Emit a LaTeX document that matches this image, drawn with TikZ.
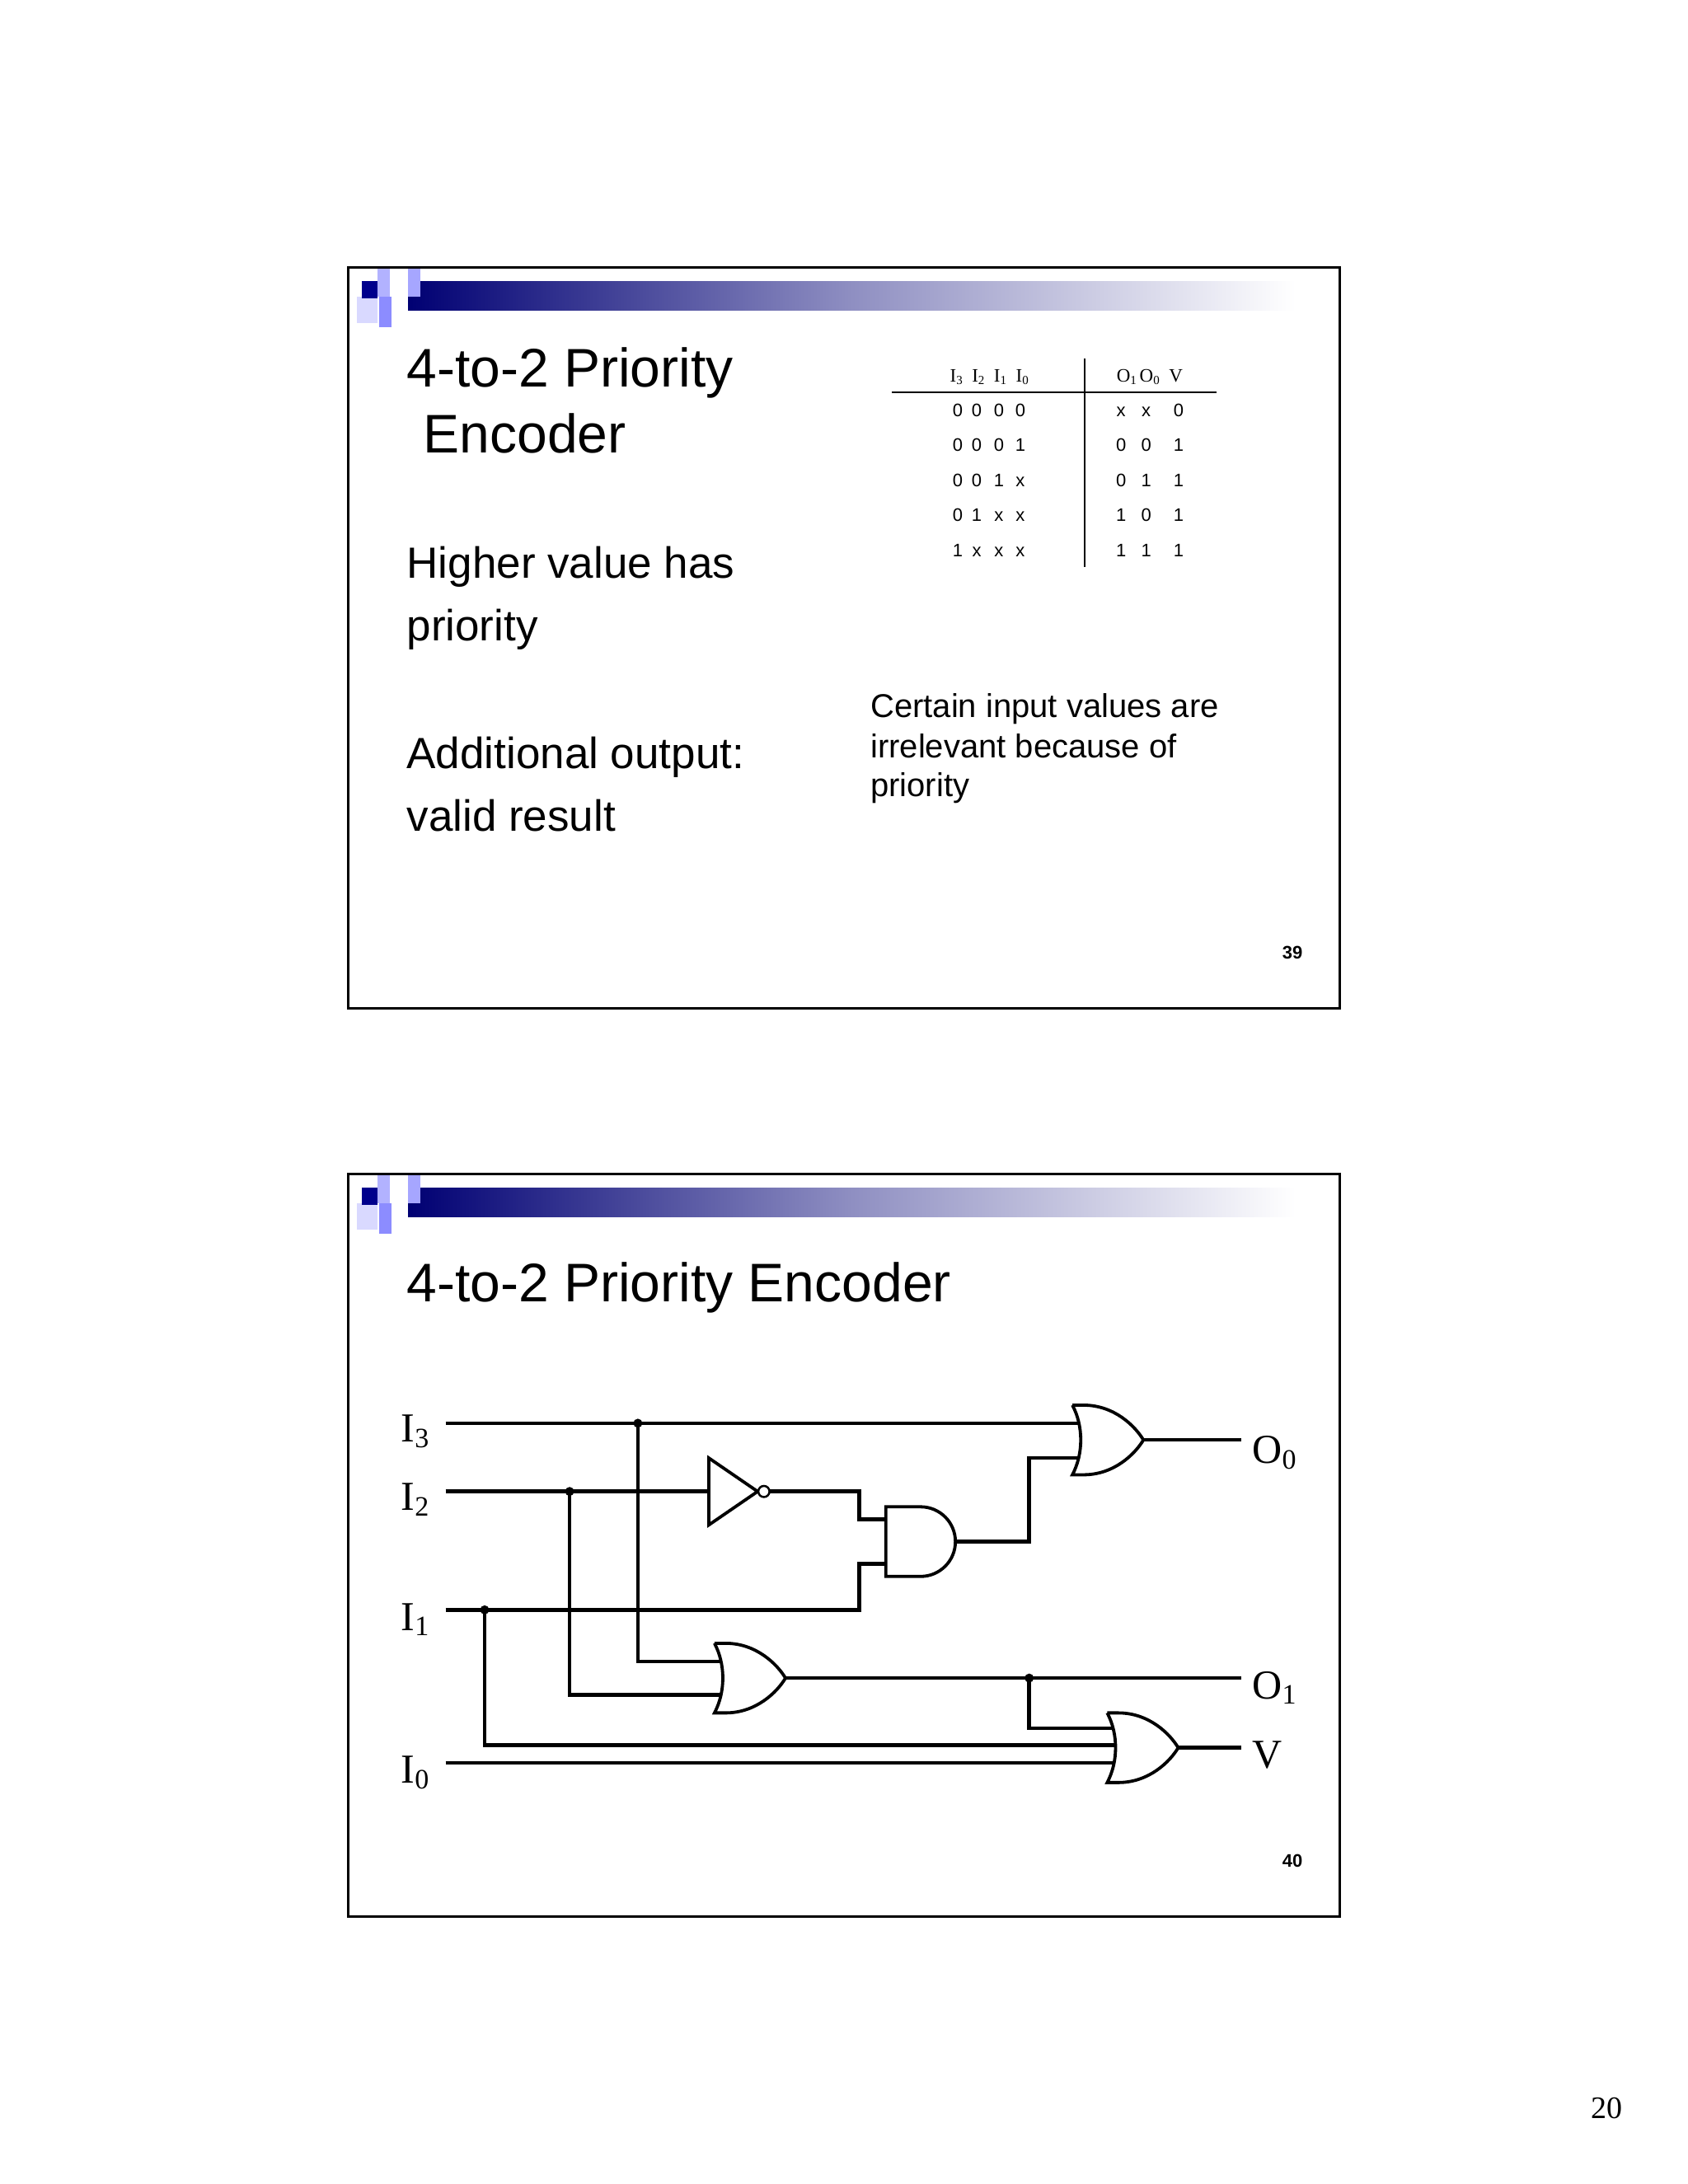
\documentclass[tikz,border=0pt]{standalone}
\usepackage{fontspec}
\setmainfont{Liberation Serif}
\newfontfamily\arial{Liberation Sans}
\newcommand{\sbs}[2]{#1\raisebox{-0.35ex}{\fontsize{#2}{#2}\selectfont}}
\newcommand{\lsub}[1]{\raisebox{-0.3ex}{\fontsize{34}{36}\selectfont #1}}
\newcommand{\tsub}[1]{\raisebox{-0.3ex}{\fontsize{15}{16}\selectfont #1}}
\begin{document}
\begin{tikzpicture}[x=1.6898pt,y=-1.6898pt,
  wire/.style={line width=4.5pt},
  gatel/.style={line width=3.8pt,fill=white},
  dot/.style={circle,fill=black,inner sep=0pt,minimum size=11pt},
  slide/.style={line width=3pt},
  hd/.style={font=\arial\fontsize{66}{70}\selectfont,anchor=base west,inner sep=0pt},
  bd/.style={font=\arial\fontsize{53}{60}\selectfont,anchor=base west,inner sep=0pt},
  sm/.style={font=\arial\fontsize{40}{46}\selectfont,anchor=base west,inner sep=0pt},
  tb/.style={font=\arial\fontsize{22}{24}\selectfont,anchor=base,inner sep=0pt},
  th/.style={font=\fontsize{23}{25}\selectfont,anchor=base,inner sep=0pt},
  lab/.style={font=\fontsize{50}{54}\selectfont,inner sep=0pt},
  pn/.style={font=\arial\bfseries\fontsize{22}{24}\selectfont,inner sep=0pt},
  orgate/.pic={\draw[gatel] (0,-25) -- (8,-25) .. controls (30,-25) and (45,-10) .. (51,0)
      .. controls (45,10) and (30,25) .. (8,25) -- (0,25) .. controls (8,10) and (8,-10) .. (0,-25);
      \coordinate (-out) at (51,0);},
  andgate/.pic={\draw[gatel] (0,-25) -- (25,-25) arc[start angle=-90,end angle=90,radius=25] -- (0,25) -- cycle;
      \coordinate (-out) at (50,0);}
]
\useasboundingbox (0,0) rectangle (1212,1568.3);
\fill[white] (0,0) rectangle (1212,1568.3);
% slide headers
\foreach \t in {0,651}{
  \begin{scope}[yshift=-\t*1.6898pt]
  \shade[left color=blue!45!black,right color=white,middle color=black!30!white!80!blue] (293,202) rectangle (930,223);
  \fill[blue!30!white] (271,193) rectangle (280,213);
  \fill[blue!35!white] (293,193) rectangle (302,213);
  \fill[blue!45!white] (272,213) rectangle (281,235);
  \fill[blue!15!white] (256,213) rectangle (271,232);
  \fill[blue!55!black] (260,202) rectangle (271,214);
  \end{scope}}
\draw[slide] (250,192) rectangle (962,724);
\draw[slide] (250,843) rectangle (962,1376);
% slide 1 text
\node[hd] (t1) at (292,278) {4-to-2 Priority};
\node[hd] (t2) at (304,325) {Encoder};
\node[bd] (h1) at (292,415) {Higher value has};
\node[bd] (h2) at (292,460) {priority};
\node[bd] (a1) at (292,552) {Additional output:};
\node[bd] (a2) at (292,597) {valid result};
\node[sm] (c1) at (625,515) {Certain input values are};
\node[sm] (c2) at (625,544) {irrelevant because of};
\node[sm] (c3) at (625,572) {priority};
\node[pn] (p39) at (928,684) {39};
% table
\draw[line width=2pt] (778.8,257.4) -- (778.8,407.2);
\draw[line width=2pt] (640.3,281.7) -- (873.5,281.7);
\node[th] (hin) at (710.3,274.4) {I\tsub{3}\ \ I\tsub{2}\ \ I\tsub{1}\ \ I\tsub{0}};
\node[th] (hout) at (825.5,274.4) {O\tsub{1}\,O\tsub{0}\ \ V};
\foreach \y/\a/\b/\c/\d/\e/\f/\g in {298.9/0/0/0/0/x/x/0, 324.3/0/0/0/1/0/0/1, 349.2/0/0/1/x/0/1/1, 374.6/0/1/x/x/1/0/1, 399.5/1/x/x/x/1/1/1}{
  \node[tb] at (687.6,\y) {\a}; \node[tb] at (701.3,\y) {\b};
  \node[tb] at (717.2,\y) {\c}; \node[tb] at (732.6,\y) {\d};
  \node[tb] at (805,\y) {\e}; \node[tb] at (823,\y) {\f}; \node[tb] at (846.3,\y) {\g};}
% slide 2
\node[hd] (t3) at (292,935) {4-to-2 Priority Encoder};
\node[pn] (p40) at (928,1336) {40};
\node[font=\fontsize{38}{40}\selectfont] (p20) at (1154,1514) {20};
% circuit coordinates
\coordinate (i3) at (320,1022); \coordinate (i2) at (320,1071);
\coordinate (i1) at (320,1156); \coordinate (i0) at (320,1266);
\coordinate (j3) at (458,1022); \coordinate (j2) at (409,1071);
\coordinate (j1) at (348,1156); \coordinate (jo1) at (739,1205);
\coordinate (o0) at (891,1034); \coordinate (o1) at (891,1205); \coordinate (v) at (891,1255);
% wires
\draw[wire] (i3) -- (776,1022);
\draw[wire] (i2) -- (509,1071);
\draw[wire] (553,1071) -| (617,1091) -- (640,1091);
\draw[wire] (i1) -| (617,1123) -- (640,1123);
\draw[wire] (686,1107) -| (739,1047) -- (776,1047);
\draw[wire] (j3) |- (519,1193);
\draw[wire] (j2) |- (519,1217);
\draw[wire] (j1) |- (801,1253);
\draw[wire] (i0) -- (801,1266);
\draw[wire] (jo1) |- (801,1241);
\draw[wire] (821,1034) -- (o0);
\draw[wire] (564,1205) -- (o1);
\draw[wire] (845,1255) -- (v);
% gates
\pic (or1) at (770,1034) {orgate};
\pic (or2) at (513,1205) {orgate};
\pic (or3) at (795,1255) {orgate};
\pic (and1) at (636,1107) {andgate};
\draw[gatel] (509,1047) -- (544,1071) -- (509,1095) -- cycle;
\draw[line width=2.5pt,fill=white] (548.5,1071) circle[radius=4];
\foreach \p in {j3,j2,j1,jo1} \node[dot] at (\p) {};
% labels
\node[lab] (l3) at (298,1028) {I\lsub{3}};
\node[lab] (l2) at (298,1077) {I\lsub{2}};
\node[lab] (l1) at (298,1163) {I\lsub{1}};
\node[lab] (l0) at (298,1273) {I\lsub{0}};
\node[lab] (lo0) at (915,1043) {O\lsub{0}};
\node[lab] (lo1) at (915,1212) {O\lsub{1}};
\node[lab] (lv) at (910,1260) {V};
\end{tikzpicture}
\end{document}
